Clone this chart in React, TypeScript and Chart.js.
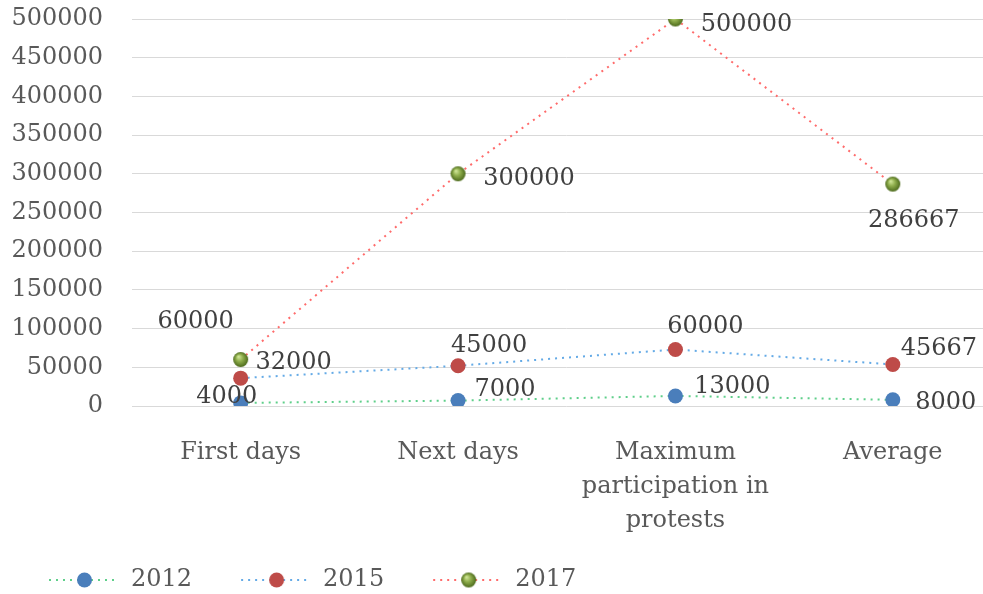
import React, { useEffect, useRef } from "react";
import { Chart, registerables } from "chart.js";

Chart.register(...registerables);

// ---- data ----
const CATEGORIES: string[][] = [
  ["First days"],
  ["Next days"],
  ["Maximum", "participation in", "protests"],
  ["Average"],
];
const SERIES_NAMES = ["2012", "2015", "2017"];
const VALUES_2012 = [4000, 7000, 13000, 8000];
const VALUES_2015 = [32000, 45000, 60000, 45667];
const VALUES_2017 = [60000, 300000, 500000, 286667];
const Y_MIN = 0;
const Y_MAX = 500000;
const Y_STEP = 50000;

// ---- styles ----
const FONT = "'DejaVu Serif', serif";
const LINE_COLORS = ["#5fcf8a", "#64aae6", "#ff6b6b"];
const MARKER_COLORS = ["#4a7ebb", "#be4b48", "#8cac4a"];
const LABEL_OFFSETS: number[][][] = [
  [[-14, -6], [47, -11], [57, -9], [53, 3]],
  [[53, -15], [31, -20], [30, -23], [46, -16]],
  [[-45, -38], [71, 5], [71, 6], [21, 37]],
];
const LEGEND_BOX = 87;
const CANVAS_W = 1009;
const CANVAS_H = 602;

function makeSphere(r: number): HTMLCanvasElement {
  const s = Math.ceil(r * 2) + 2;
  const c = document.createElement("canvas");
  c.width = s;
  c.height = s;
  const g = c.getContext("2d")!;
  const cx = s / 2;
  const grad = g.createRadialGradient(cx - r * 0.3, cx - r * 0.4, r * 0.05, cx, cx, r);
  grad.addColorStop(0, "#d2e89a");
  grad.addColorStop(0.45, "#8fae4c");
  grad.addColorStop(1, "#4c6a1c");
  g.fillStyle = grad;
  g.beginPath();
  g.arc(cx, cx, r, 0, Math.PI * 2);
  g.fill();
  return c;
}

function makeLegendImage(i: number, sphere: HTMLCanvasElement): HTMLCanvasElement {
  const c = document.createElement("canvas");
  c.width = LEGEND_BOX;
  c.height = 20;
  const g = c.getContext("2d")!;
  const x0 = LEGEND_BOX - 70;
  const x1 = LEGEND_BOX - 3;
  g.strokeStyle = LINE_COLORS[i];
  g.lineWidth = 2;
  g.setLineDash([2, 5]);
  g.beginPath();
  g.moveTo(x0, 10);
  g.lineTo(x1, 10);
  g.stroke();
  const cx = (x0 + x1) / 2 + 2;
  if (i === 2) {
    g.drawImage(sphere, cx - sphere.width / 2, 10 - sphere.height / 2);
  } else {
    g.fillStyle = MARKER_COLORS[i];
    g.beginPath();
    g.arc(cx, 10, 7.5, 0, Math.PI * 2);
    g.fill();
  }
  return c;
}

const dataLabelPlugin = {
  id: "dataLabels",
  afterDatasetsDraw(chart: any) {
    const ctx = chart.ctx;
    const all = [VALUES_2012, VALUES_2015, VALUES_2017];
    ctx.save();
    ctx.font = `24px ${FONT}`;
    ctx.fillStyle = "#404040";
    ctx.textAlign = "center";
    ctx.textBaseline = "middle";
    chart.data.datasets.forEach((_ds: any, i: number) => {
      const meta = chart.getDatasetMeta(i);
      meta.data.forEach((pt: any, j: number) => {
        const off = LABEL_OFFSETS[i][j];
        ctx.fillText(String(all[i][j]), pt.x + off[0], pt.y + off[1]);
      });
    });
    ctx.restore();
  },
};

export default function App() {
  const canvasRef = useRef<HTMLCanvasElement | null>(null);

  useEffect(() => {
    if (!canvasRef.current) return;
    const sphere = makeSphere(7.5);
    const legendImages = [0, 1, 2].map((i) => makeLegendImage(i, sphere));
    const seriesValues = [VALUES_2012, VALUES_2015, VALUES_2017];
    const stacks = ["base", "base", "top"];

    const chart = new Chart(canvasRef.current, {
      type: "line",
      data: {
        labels: CATEGORIES,
        datasets: SERIES_NAMES.map((name, i) => ({
          label: name,
          data: seriesValues[i],
          stack: stacks[i],
          borderColor: LINE_COLORS[i],
          borderWidth: 2,
          borderDash: [2, 5],
          fill: false,
          tension: 0,
          pointStyle: i === 2 ? (sphere as any) : "circle",
          pointRadius: 7.5,
          pointBackgroundColor: MARKER_COLORS[i],
          pointBorderColor: MARKER_COLORS[i],
          pointBorderWidth: 0,
        })),
      },
      options: {
        responsive: false,
        maintainAspectRatio: false,
        devicePixelRatio: 1,
        animation: false,
        events: [],
        layout: { padding: { top: 19, right: 1, left: 0, bottom: 0 } },
        scales: {
          x: {
            offset: true,
            grid: { display: false },
            border: { display: false },
            ticks: {
              font: { family: FONT, size: 24, lineHeight: 34 / 24 },
              color: "#595959",
              padding: 22,
              maxRotation: 0,
              autoSkip: false,
            },
            afterFit: (s: any) => {
              s.height = 130;
              s.paddingLeft = 0;
              s.paddingRight = 0;
            },
          },
          y: {
            stacked: true,
            min: Y_MIN,
            max: Y_MAX,
            border: { display: false },
            grid: { color: "#d9d9d9", lineWidth: 1, drawTicks: false },
            ticks: {
              stepSize: Y_STEP,
              font: { family: FONT, size: 24 },
              color: "#595959",
              padding: 29,
              callback: (v: any) => String(v),
            },
            afterFit: (s: any) => {
              s.width = 132;
              s.paddingTop = 0;
              s.paddingBottom = 0;
            },
          },
        },
        plugins: {
          tooltip: { enabled: false },
          legend: {
            position: "bottom",
            align: "start",
            labels: {
              usePointStyle: true,
              pointStyleWidth: LEGEND_BOX,
              padding: 32,
              color: "#595959",
              font: { family: FONT, size: 24 },
              generateLabels: (ch: any) => {
                const items = (Chart.defaults as any).plugins.legend.labels.generateLabels(ch);
                return items.map((it: any, i: number) => ({
                  ...it,
                  pointStyle: legendImages[i],
                }));
              },
            },
          },
        },
      },
      plugins: [dataLabelPlugin],
    } as any);

    return () => chart.destroy();
  }, []);

  return (
    <div
      style={{
        position: "absolute",
        left: 0,
        top: 0,
        width: 983,
        height: 594,
        overflow: "hidden",
        background: "#ffffff",
      }}
    >
      <canvas
        ref={canvasRef}
        width={CANVAS_W}
        height={CANVAS_H}
        style={{ display: "block", width: CANVAS_W, height: CANVAS_H }}
      />
    </div>
  );
}
